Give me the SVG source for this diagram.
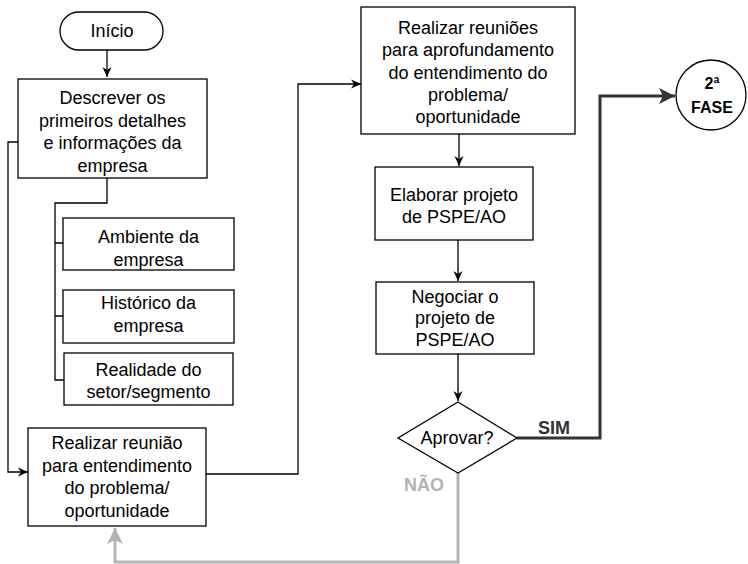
<svg xmlns="http://www.w3.org/2000/svg" width="748" height="564" viewBox="0 0 748 564">
<defs>
<style>
.box{fill:#fff;stroke:#000;stroke-width:1.3}
.t{font-family:"Liberation Sans",Arial,Helvetica,sans-serif;font-size:18px;fill:#000;text-anchor:middle}
.b{font-weight:bold}
.c{fill:none;stroke:#000;stroke-width:1.3}
.sim{fill:none;stroke:#333;stroke-width:3}
.nao{fill:none;stroke:#b3b3b3;stroke-width:3}
</style>
<marker id="ab" markerUnits="userSpaceOnUse" markerWidth="12" markerHeight="12" viewBox="0 0 12 12" refX="11" refY="6" orient="auto">
<path d="M1,1.5 L11,6 L1,10.5 L4,6 z" fill="#000"/>
</marker>
<marker id="as" markerUnits="userSpaceOnUse" markerWidth="18" markerHeight="18" viewBox="0 0 18 18" refX="17" refY="9" orient="auto">
<path d="M1,1 L17,9 L1,17 L5,9 z" fill="#333"/>
</marker>
<marker id="an" markerUnits="userSpaceOnUse" markerWidth="18" markerHeight="18" viewBox="0 0 18 18" refX="17" refY="9" orient="auto">
<path d="M1,1 L17,9 L1,17 L5,9 z" fill="#b3b3b3"/>
</marker>
</defs>
<rect width="748" height="564" fill="#fff"/>
<g id="connectors">
<path class="c" d="M107,50 V77" marker-end="url(#ab)"/>
<path class="c" d="M107,178 V203 H55 V380 H64 M55,243 H63 M55,316 H63"/>
<path class="c" d="M18,142 H8 V472 H28" marker-end="url(#ab)"/>
<path class="c" d="M206,474 H298 V84 H361" marker-end="url(#ab)"/>
<path class="c" d="M459,134 V166" marker-end="url(#ab)"/>
<path class="c" d="M458,240 V281" marker-end="url(#ab)"/>
<path class="c" d="M458,354 V401" marker-end="url(#ab)"/>
<path class="sim" d="M517,438 H600 V96 H675" marker-end="url(#as)"/>
<path class="nao" d="M458,473 V562 H115 V528" marker-end="url(#an)"/>
<text class="t b" x="554" y="434" style="fill:#333">SIM</text>
<text class="t b" x="424" y="491" style="fill:#b3b3b3">NÃO</text>
</g>
<g id="inicio">
<rect class="box" x="60" y="12" width="103" height="38" rx="19" ry="19"/>
<text class="t" x="112" y="37">Início</text>
</g>
<g id="descrever">
<rect class="box" x="18" y="79" width="189" height="99"/>
<text class="t" x="112.5" y="104">Descrever os</text>
<text class="t" x="112.5" y="127">primeiros detalhes</text>
<text class="t" x="112.5" y="149">e informações da</text>
<text class="t" x="112.5" y="172">empresa</text>
</g>
<g id="ambiente">
<rect class="box" x="63" y="218" width="171" height="52"/>
<text class="t" x="148.5" y="243">Ambiente da</text>
<text class="t" x="148.5" y="266">empresa</text>
</g>
<g id="historico">
<rect class="box" x="63" y="290" width="171" height="53"/>
<text class="t" x="148.5" y="309">Histórico da</text>
<text class="t" x="148.5" y="332">empresa</text>
</g>
<g id="realidade">
<rect class="box" x="64" y="353" width="169" height="52"/>
<text class="t" x="148.5" y="376">Realidade do</text>
<text class="t" x="148.5" y="398">setor/segmento</text>
</g>
<g id="reuniao">
<rect class="box" x="28" y="428" width="178" height="98"/>
<text class="t" x="117" y="449">Realizar reunião</text>
<text class="t" x="117" y="472">para entendimento</text>
<text class="t" x="117" y="494">do problema/</text>
<text class="t" x="117" y="517">oportunidade</text>
</g>
<g id="reunioes">
<rect class="box" x="361" y="7" width="214" height="127"/>
<text class="t" x="468" y="34">Realizar reuniões</text>
<text class="t" x="468" y="56">para aprofundamento</text>
<text class="t" x="468" y="79">do entendimento do</text>
<text class="t" x="468" y="101">problema/</text>
<text class="t" x="468" y="123">oportunidade</text>
</g>
<g id="elaborar">
<rect class="box" x="375" y="167" width="158" height="73"/>
<text class="t" x="454" y="201">Elaborar projeto</text>
<text class="t" x="454" y="223">de PSPE/AO</text>
</g>
<g id="negociar">
<rect class="box" x="376" y="282" width="158" height="72"/>
<text class="t" x="455" y="303">Negociar o</text>
<text class="t" x="455" y="324">projeto de</text>
<text class="t" x="455" y="346">PSPE/AO</text>
</g>
<g id="aprovar">
<path class="box" d="M458,402 L517,438 L458,473 L398,438 z"/>
<text class="t" x="457" y="444">Aprovar?</text>
</g>
<g id="fase2">
<circle class="box" cx="711" cy="95" r="35"/>
<text class="t b" x="712" y="89" style="font-size:16px">2ª</text>
<text class="t b" x="712" y="113" style="font-size:16px">FASE</text>
</g>
</svg>
